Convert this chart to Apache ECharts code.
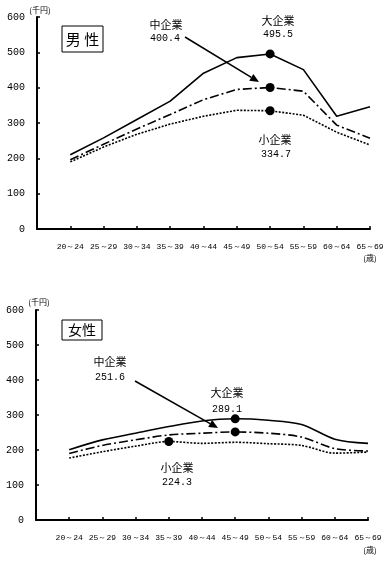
<!DOCTYPE html>
<html><head><meta charset="utf-8">
<script src="https://cdn.jsdelivr.net/npm/echarts@6/dist/echarts.min.js"></script>
<style>html,body{margin:0;padding:0;background:#fff}#c{width:392px;height:563px}</style>
</head><body><div id="c"></div>
<script>
const ageGroups = ['20～24','25～29','30～34','35～39','40～44','45～49','50～54','55～59','60～64','65～69'];
const yTicks = [0,100,200,300,400,500,600];
// 男性
const maleLarge  = [210, 258, 310, 362, 441, 485, 495.5, 451, 319, 346];
const maleMedium = [196, 240, 283, 324, 366, 395, 400.4, 390, 294, 257];
const maleSmall  = [190, 232, 268, 297, 319, 336, 334.7, 322, 274, 238];
// 女性
const femaleLarge  = [201, 229, 248, 267, 283, 289.1, 285, 273, 231, 219];
const femaleMedium = [190, 213, 229, 243, 248, 251.6, 248, 237, 204, 197];
const femaleSmall  = [177, 195, 211, 224.3, 219, 222, 218, 213, 191, 194];
// highlighted points: [series, category index]
const maleMarks = {large: 6, medium: 6, small: 6};
const femaleMarks = {large: 5, medium: 5, small: 3};

const cats = [''].concat(ageGroups);
const pad = a => ['-'].concat(a);
const F = '"Noto Sans CJK JP", sans-serif';
const M = '"Liberation Mono", monospace';

function xAxis(gi){
  return {type:'category', gridIndex:gi, data:cats, boundaryGap:false,
    axisLine:{lineStyle:{color:'#000', width:2}},
    axisTick:{inside:true, length:3, lineStyle:{color:'#000', width:1.5}, interval:0},
    axisLabel:{interval:0, fontSize:8, color:'#000', fontFamily:M, margin:14},
    splitLine:{show:false}};
}
function yAxis(gi){
  return {type:'value', gridIndex:gi, min:yTicks[0], max:yTicks[yTicks.length-1], interval:100,
    axisLine:{show:true, lineStyle:{color:'#000', width:2}},
    axisTick:{show:true, inside:true, length:3, lineStyle:{color:'#000', width:1.5}},
    axisLabel:{fontSize:10, color:'#000', fontFamily:M, margin:12},
    splitLine:{show:false}};
}
function mp(idx, vals){
  return {symbol:'circle', symbolSize:9, itemStyle:{color:'#000'}, label:{show:false},
    data:[{coord:[cats[idx+1], vals[idx]]}]};
}
function line(gi, vals, type, markIdx, smooth){
  return {type:'line', xAxisIndex:gi, yAxisIndex:gi, data:pad(vals), symbol:'none', smooth:smooth,
    lineStyle:{color:'#000', width:1.6, type:type}, markPoint:mp(markIdx, vals), animation:false};
}
const dashDot = [9,3,2,3];
const dotted = [2,1.5];

function txt(x, y, s, size, fam){
  return {type:'text', left:x, top:y, style:{text:s, fill:'#000', font:size+'px '+fam, textAlign:'center', textVerticalAlign:'middle'}};
}
function arrow(x1,y1,x2,y2){
  const dx=x2-x1, dy=y2-y1, L=Math.hypot(dx,dy), ux=dx/L, uy=dy/L, px=-uy, py=ux;
  const bx=x2-9*ux, by=y2-9*uy;
  return [
    {type:'line', shape:{x1:x1,y1:y1,x2:bx,y2:by}, style:{stroke:'#000', lineWidth:1.5}},
    {type:'polygon', shape:{points:[[x2,y2],[bx+4*px,by+4*py],[bx-4*px,by-4*py]]}, style:{fill:'#000'}}
  ];
}
function t(x,y,s,size,fam){ return {type:'text', x:x, y:y, style:{text:s, fill:'#000', font:size+'px '+fam, align:'center', verticalAlign:'middle'}}; }

const chart = echarts.init(document.getElementById('c'));
chart.setOption({
  backgroundColor:'#fff',
  animation:false,
  grid:[{left:37, right:22, top:17, bottom:334}, {left:36, right:24, top:310, bottom:43}],
  xAxis:[xAxis(0), xAxis(1)],
  yAxis:[yAxis(0), yAxis(1)],
  series:[
    line(0, maleLarge, 'solid', maleMarks.large, false),
    line(0, maleMedium, dashDot, maleMarks.medium, false),
    line(0, maleSmall, dotted, maleMarks.small, false),
    line(1, femaleLarge, 'solid', femaleMarks.large, 0.3),
    line(1, femaleMedium, dashDot, femaleMarks.medium, 0.3),
    line(1, femaleSmall, dotted, femaleMarks.small, 0.3)
  ],
  graphic:[].concat(
    [
      {type:'rect', shape:{x:62, y:26, width:41, height:26}, style:{fill:'#fff', stroke:'#000', lineWidth:1}},
      t(82.5, 39, '男 性', 15, F),
      t(40, 10, '(千円)', 8, F),
      t(166, 25, '中企業', 11, F),
      t(165, 38, '400.4', 10, M),
      t(278, 21, '大企業', 11, F),
      t(278, 34, '495.5', 10, M),
      t(275, 140, '小企業', 11, F),
      t(276, 154, '334.7', 10, M),
      t(370, 258, '(歳)', 8, F),

      {type:'rect', shape:{x:62, y:320, width:40, height:20}, style:{fill:'#fff', stroke:'#000', lineWidth:1}},
      t(82, 330, '女性', 14, F),
      t(39, 302, '(千円)', 8, F),
      t(110, 362, '中企業', 11, F),
      t(110, 377, '251.6', 10, M),
      t(227, 393, '大企業', 11, F),
      t(227, 409, '289.1', 10, M),
      t(177, 468, '小企業', 11, F),
      t(177, 482, '224.3', 10, M),
      t(370, 550, '(歳)', 8, F)
    ],
    arrow(185, 37, 259, 82),
    arrow(135, 381, 218, 428)
  )
});
</script></body></html>
